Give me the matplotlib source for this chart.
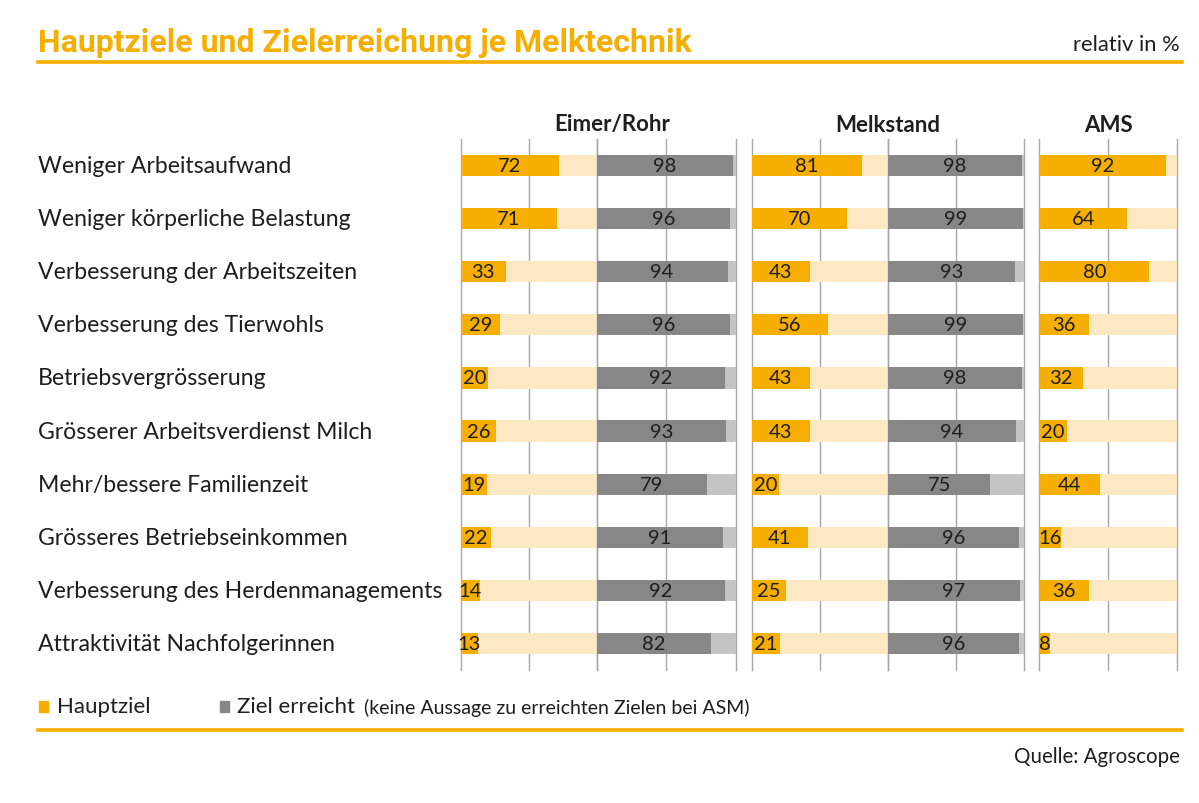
import matplotlib
matplotlib.use("Agg")
import matplotlib.pyplot as plt
from matplotlib.lines import Line2D
from matplotlib.patches import Rectangle
import matplotlib.transforms as mtransforms

# ---------------- data ----------------
categories = [
    "Weniger Arbeitsaufwand",
    "Weniger körperliche Belastung",
    "Verbesserung der Arbeitszeiten",
    "Verbesserung des Tierwohls",
    "Betriebsvergrösserung",
    "Grösserer Arbeitsverdienst Milch",
    "Mehr/bessere Familienzeit",
    "Grösseres Betriebseinkommen",
    "Verbesserung des Herdenmanagements",
    "Attraktivität Nachfolgerinnen",
]
eimer_hauptziel = [72, 71, 33, 29, 20, 26, 19, 22, 14, 13]
eimer_erreicht = [98, 96, 94, 96, 92, 93, 79, 91, 92, 82]
melkstand_hauptziel = [81, 70, 43, 56, 43, 43, 20, 41, 25, 21]
melkstand_erreicht = [98, 99, 93, 99, 98, 94, 75, 96, 97, 96]
ams_hauptziel = [92, 64, 80, 36, 32, 20, 44, 16, 36, 8]
group_titles = ["Eimer/Rohr", "Melkstand", "AMS"]

# ---------------- style ----------------
ORANGE = "#F6AE00"
ORANGE_LIGHT = "#FDE8C4"
GRAY_DARK = "#878787"
GRAY_LIGHT = "#C4C4C4"
GRID = "#A8A8A8"
TEXT = "#1E1E1E"
FONT = ["Lato", "DejaVu Sans"]
TITLE_FONT = ["Roboto", "DejaVu Sans"]

W, H = 1199, 804
fig = plt.figure(figsize=(W / 100, H / 100), dpi=100)
fig.patch.set_facecolor("white")

TOP, BOT = 140, 671


def panel(x0, x1):
    ax = fig.add_axes([x0 / W, 1 - BOT / H, (x1 - x0) / W, (BOT - TOP) / H])
    ax.set_xlim(0, 100)
    ax.set_ylim(len(categories) - 0.5, -0.5)
    ax.axis("off")
    for g in (0, 50, 100):
        ax.axvline(g, color=GRID, lw=1.0, zorder=0, clip_on=False)
    return ax


def draw(ax, values, fg, bg):
    y = list(range(len(values)))
    ax.barh(y, [100] * len(values), height=0.40, color=bg, zorder=1)
    ax.barh(y, values, height=0.40, color=fg, zorder=2)
    for yi, v in zip(y, values):
        ax.text(v / 2, yi, str(v), ha="center", va="center", fontsize=14.5,
                color=TEXT, family=FONT, zorder=3)


ax1 = panel(460.7, 596.7)
ax2 = panel(596.7, 736.0)
ax3 = panel(751.7, 888.0)
ax4 = panel(888.0, 1024.3)
ax5 = panel(1039.3, 1176.7)

draw(ax1, eimer_hauptziel, ORANGE, ORANGE_LIGHT)
draw(ax2, eimer_erreicht, GRAY_DARK, GRAY_LIGHT)
draw(ax3, melkstand_hauptziel, ORANGE, ORANGE_LIGHT)
draw(ax4, melkstand_erreicht, GRAY_DARK, GRAY_LIGHT)
draw(ax5, ams_hauptziel, ORANGE, ORANGE_LIGHT)

# category labels
tr = mtransforms.blended_transform_factory(fig.transFigure, ax1.transData)
for i, c in enumerate(categories):
    fig.text(38 / W, i, c, transform=tr, ha="left", va="center",
             fontsize=16.6, color=TEXT, family=FONT)

# group headers
for xc, t in zip([612, 888, 1109], group_titles):
    fig.text(xc / W, 1 - 125 / H, t, ha="center", va="center", fontsize=16,
             fontweight="bold", color=TEXT, family=FONT)

# title
fig.text(38 / W, 1 - 43 / H, "Hauptziele und Zielerreichung je Melktechnik",
         ha="left", va="center", fontsize=23, fontweight="bold",
         color=ORANGE, family=TITLE_FONT)
fig.text(1180 / W, 1 - 45 / H, "relativ in %", ha="right", va="center",
         fontsize=15.8, color=TEXT, family=FONT)

fig.add_artist(Line2D([38 / W, 1182 / W], [1 - 63 / H] * 2, lw=2.6, color=ORANGE))
fig.add_artist(Line2D([38 / W, 1182 / W], [1 - 731 / H] * 2, lw=2.6, color=ORANGE))

# legend
fig.add_artist(Rectangle((39 / W, 1 - 713 / H), 9 / W, 11 / H,
                         transform=fig.transFigure, color=ORANGE))
fig.text(57 / W, 1 - 707 / H, "Hauptziel", ha="left", va="center",
         fontsize=16, color=TEXT, family=FONT)
fig.add_artist(Rectangle((220 / W, 1 - 713 / H), 9 / W, 11 / H,
                         transform=fig.transFigure, color=GRAY_DARK))
fig.text(237 / W, 1 - 707 / H, "Ziel erreicht", ha="left", va="center",
         fontsize=16, color=TEXT, family=FONT)
fig.text(364 / W, 1 - 708 / H, "(keine Aussage zu erreichten Zielen bei ASM)",
         ha="left", va="center", fontsize=14, color=TEXT, family=FONT)

fig.text(1180 / W, 1 - 757 / H, "Quelle: Agroscope", ha="right", va="center",
         fontsize=14.8, color=TEXT, family=FONT)

fig.savefig("out.png", dpi=100, facecolor="white")
